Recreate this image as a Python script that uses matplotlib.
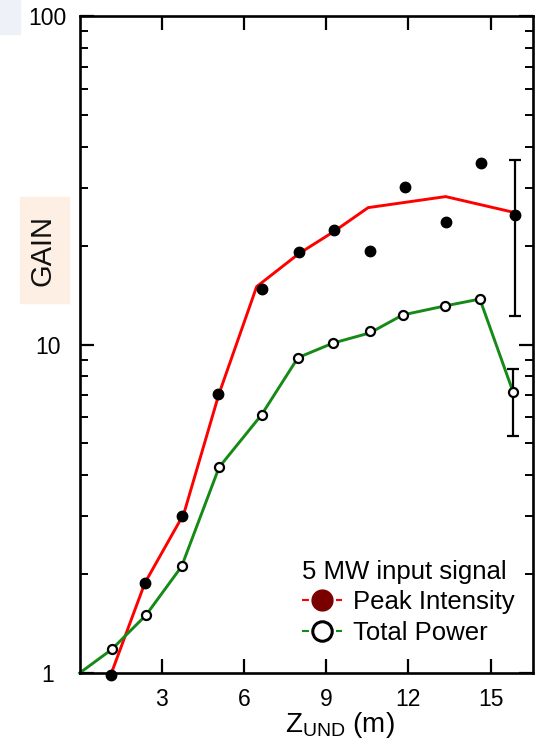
import matplotlib
matplotlib.use("Agg")
import matplotlib.pyplot as plt
from matplotlib.lines import Line2D
from matplotlib.patches import Rectangle

plt.rcParams['font.family'] = ['Liberation Sans', 'DejaVu Sans']
plt.rcParams['mathtext.fontset'] = 'custom'
plt.rcParams['mathtext.rm'] = 'Liberation Sans'
plt.rcParams['mathtext.it'] = 'Liberation Sans:italic'
plt.rcParams['lines.scale_dashes'] = False

# ---- data ----
peak_x = [1.13, 2.38, 3.72, 5.06, 6.64, 8.0, 9.29, 10.6, 11.87, 13.39, 14.65, 15.9]
peak_y = [0.985, 1.88, 3.0, 7.08, 14.8, 19.1, 22.3, 19.3, 30.2, 23.6, 35.8, 24.7]
peak_line_x = [1.13, 2.38, 3.8, 5.08, 6.46, 8.0, 9.29, 10.53, 13.36, 15.89]
peak_line_y = [0.985, 1.88, 3.05, 7.05, 15.0, 18.9, 22.1, 26.1, 28.2, 25.2]

power_x = [1.17, 2.42, 3.72, 5.09, 6.64, 7.97, 9.25, 10.6, 11.79, 13.33, 14.61, 15.82]
power_y = [1.18, 1.50, 2.11, 4.23, 6.11, 9.12, 10.1, 10.96, 12.3, 13.1, 13.75, 7.18]
power_line_x = [0.0, 1.17, 2.42, 3.72, 5.09, 6.64, 7.97, 9.25, 10.6, 11.79, 13.33, 14.61, 15.82]
power_line_y = [1.0, 1.18, 1.50, 2.11, 4.23, 6.11, 9.12, 10.1, 10.85, 12.3, 13.1, 13.75, 7.18]

peak_err_x = [15.9]
peak_err_lo = [12.2]
peak_err_hi = [36.4]
power_err_x = [15.82]
power_err_lo = [5.28]
power_err_hi = [8.45]

xticks = [3, 6, 9, 12, 15]
yticks = [1, 10, 100]
ytick_labels = ['1', '10', '100']

legend_title = '5 MW input signal'
label_peak = 'Peak Intensity'
label_power = 'Total Power'

W, H = 545, 743
fig = plt.figure(figsize=(W / 100, H / 100), dpi=100)
ax = fig.add_axes([79.7 / W, 1 - 673 / H, (533 - 79.7) / W, (673 - 16) / H])

red = '#ff0000'
green = '#168a16'

ax.plot(peak_line_x, peak_line_y, color=red, lw=2.1, zorder=2, clip_on=False)
ax.plot(power_line_x, power_line_y, color=green, lw=2.1, zorder=2, clip_on=False)
ax.plot(peak_x, peak_y, 'o', color='black', ms=7.5, zorder=4, clip_on=False)
ax.plot(power_x, power_y, 'o', mfc='white', mec='black', mew=1.6, ms=6.5, zorder=4, clip_on=False)

for ex, lo, hi, y in ((peak_err_x, peak_err_lo, peak_err_hi, [peak_y[-1]]),
                      (power_err_x, power_err_lo, power_err_hi, [power_y[-1]])):
    yerr = [[y[0] - lo[0]], [hi[0] - y[0]]]
    ax.errorbar(ex, y, yerr=yerr, fmt='none', ecolor='black', elinewidth=1.6,
                capsize=4, capthick=1.6, zorder=3)

ax.set_yscale('log')
ax.set_xlim(0, 16.55)
ax.set_ylim(1, 100)
ax.set_xticks(xticks)
ax.set_xticklabels([str(t) for t in xticks])
ax.set_yticks(yticks)
ax.set_yticklabels(ytick_labels, ha='center')

for s in ax.spines.values():
    s.set_linewidth(1.9)
    s.set_color('black')

ax.tick_params(which='both', direction='in', top=True, right=True, color='black')
ax.tick_params(which='major', length=10, width=1.6)
ax.tick_params(which='minor', length=6, width=1.4)
ax.tick_params(axis='x', which='major', labelsize=16.5, pad=11)
ax.tick_params(axis='y', which='major', labelsize=16.5, pad=23)
ax.tick_params(axis='x', which='minor', bottom=False, top=False)

ax.set_xlabel(r'Z$_{\mathrm{UND}}$ (m)', fontsize=20)
ax.xaxis.set_label_coords(0.574, -0.0785)
ax.xaxis.label.set_va('center')

# GAIN label with its tinted box
fig.patches.append(Rectangle((20 / W, 1 - 303 / H), 49 / W, 106 / H,
                             transform=fig.transFigure, color='#fdefe3', zorder=0))
fig.patches.append(Rectangle((0, 1 - 34 / H), 20 / W, 34 / H,
                             transform=fig.transFigure, color='#eef2f8', zorder=0))
fig.text(42.5 / W, 1 - 251 / H, 'GAIN', rotation=90, fontsize=21,
         ha='center', va='center', color='#111111')

# legend
lw_h = 1.5
h_peak = Line2D([], [], color=red, lw=lw_h, linestyle=(0, (5.0, 19.5)),
                marker='o', mfc='#7a0000', mec='#7a0000', ms=15)
h_power = Line2D([], [], color=green, lw=lw_h, linestyle=(0, (5.0, 19.5)),
                 marker='o', mfc='white', mec='black', mew=2.2, ms=14)
leg = ax.legend([h_peak, h_power], [label_peak, label_power], title=legend_title,
                loc='lower left', bbox_to_anchor=(0.482, 0.037), frameon=False,
                fontsize=18.5, title_fontsize=18.5, handlelength=1.55, handletextpad=0.43,
                labelspacing=0.25, borderpad=0.15, borderaxespad=0.0, numpoints=1,
                alignment='left')

fig.savefig('out.png', dpi=100)
